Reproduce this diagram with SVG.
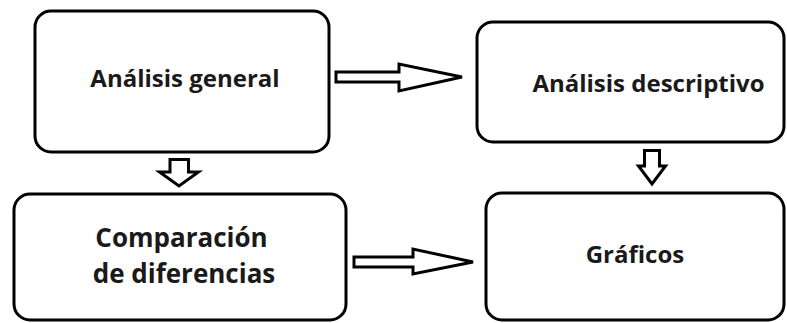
<svg xmlns="http://www.w3.org/2000/svg" width="787" height="323" viewBox="0 0 787 323">
  <style>
    .box { fill: #ffffff; stroke: #000000; stroke-width: 3; }
    .arrow { fill: #ffffff; stroke: #000000; stroke-width: 3; stroke-linejoin: miter; }
    .label { font-family: "Open Sans", "Lato", "Liberation Sans", sans-serif; font-weight: bold; font-size: 24px; fill: #1a1a1a; text-anchor: middle; }
    .big { font-size: 26px; }
  </style>
  <rect width="787" height="323" fill="#ffffff"/>
  <g id="connectors">
    <polygon class="arrow" points="336,72 399,72 399,64 462,77 399,91 399,82 336,82"/>
    <polygon class="arrow" points="354,257 413,257 413,249 473,262 413,274 413,267 354,267"/>
    <polygon class="arrow" points="170,159.5 188.5,159.5 188.5,172 198.5,172 179,186 159.5,172 170,172"/>
    <polygon class="arrow" points="644.5,150.5 659.5,150.5 659.5,166 665.5,166 652,184 638.5,166 644.5,166"/>
  </g>
  <g id="node-analisis-general">
    <rect class="box" x="35" y="11" width="294" height="141" rx="16" ry="16"/>
    <text class="label" x="185" y="87">Análisis general</text>
  </g>
  <g id="node-analisis-descriptivo">
    <rect class="box" x="477" y="22" width="307" height="120" rx="16" ry="16"/>
    <text class="label" x="648.5" y="92">Análisis descriptivo</text>
  </g>
  <g id="node-comparacion">
    <rect class="box" x="14" y="194" width="332" height="126" rx="16" ry="16"/>
    <text class="label big" x="181.5" y="247">Comparación</text>
    <text class="label big" x="184" y="283">de diferencias</text>
  </g>
  <g id="node-graficos">
    <rect class="box" x="486" y="193" width="298" height="127" rx="16" ry="16"/>
    <text class="label" x="635" y="263">Gráficos</text>
  </g>
</svg>
